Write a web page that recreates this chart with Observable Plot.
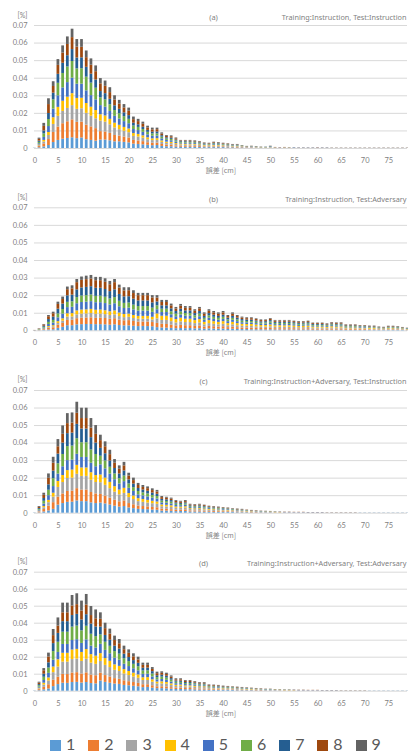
<!DOCTYPE html>
<html>
<head>
<meta charset="utf-8">
<script src="https://cdn.jsdelivr.net/npm/d3@7"></script>
<script src="https://cdn.jsdelivr.net/npm/@observablehq/plot@0.6"></script>
<style>
  html, body { margin: 0; padding: 0; background: #fff; }
  #chart { position: relative; width: 408px; height: 754px; overflow: hidden; }
  #chart svg { display: block; }
  #legend { position: absolute; left: 50px; top: 734px; height: 19.2px; display: flex; align-items: flex-start;
    font-family: Lato, "Liberation Sans", sans-serif; font-size: 16px; line-height: normal; color: #595959; }
  .item { display: flex; align-items: flex-start; width: 38.2px; }
  .sw { width: 11px; height: 11px; margin-top: 5.5px; margin-right: 5px; flex: none; }
</style>
</head>
<body>
<div id="chart"><div id="legend"></div></div>
<script>
// ---- data (values in units of 0.0001 %) ----
const seriesNames = ["1","2","3","4","5","6","7","8","9"];
const colors = ["#5B9BD5","#ED7D31","#A5A5A5","#FFC000","#4472C4","#70AD47","#255E91","#9E480E","#636363"];
const bins = d3.range(0, 80);
const xTicks = [0,5,10,15,20,25,30,35,40,45,50,55,60,65,70,75];
const yTicks = [0,0.01,0.02,0.03,0.04,0.05,0.06,0.07];
const xLabel = "誤差 [cm]";
const yLabel = "[%]";

// Panel (a)
const a1 = [1,4,9,17,34,46,53,57,61,56, 60,50,46,42,48,48,44,38,38,35, 32,25,23,21,18,16,17,12,10,10, 8,7,7,7,7,6,5,5,5,5, 5,4,4,3,3,2,2,2,1,1, 2,1,1,1,1,1,1,1,1,1, 1,1,1,1,1,1,1,1,1,1, 1,1,1,1,1,1,1,1,1,1];
const a2 = [0,7,17,34,57,76,88,95,102,93, 90,83,77,71,48,46,42,36,33,30, 28,21,20,18,15,14,14,11,9,9, 7,6,5,6,5,5,4,4,4,4, 4,3,3,3,2,2,2,1,1,1, 1,1,1,1,0,1,0,0,0,0, 1,0,0,0,0,0,0,0,0,0, 0,0,0,0,0,0,0,0,0,0];
const a3 = [1,5,11,23,46,61,70,76,81,74, 76,67,61,56,60,56,49,43,36,33, 30,23,22,20,17,15,15,12,10,9, 8,7,7,7,7,6,5,4,5,5, 4,4,3,4,3,2,2,2,1,1, 2,1,1,1,1,1,1,1,1,1, 1,1,1,1,1,1,1,1,1,1, 1,1,1,1,1,1,1,1,1,1];
const a4 = [0,4,9,17,38,51,58,64,68,62, 60,56,51,47,36,35,31,27,25,22, 21,16,15,13,11,10,10,8,7,7, 5,5,5,4,4,4,3,3,4,3, 3,3,2,2,2,1,1,1,1,1, 1,1,0,1,1,0,0,0,0,0, 0,0,0,0,0,0,0,0,0,0, 0,0,0,0,0,0,0,0,0,0];
const a5 = [0,7,17,34,49,66,76,83,88,81, 80,72,66,61,52,50,45,39,36,33, 30,23,22,20,17,15,15,12,10,9, 8,5,6,6,5,5,4,4,4,4, 4,3,3,3,2,1,2,1,1,1, 3,1,1,1,1,1,1,1,1,1, 1,1,1,0,0,0,0,0,0,0, 0,0,0,0,0,0,0,0,0,0];
const a6 = [0,8,20,40,53,71,82,89,95,87, 88,78,71,66,44,42,38,33,30,28, 25,20,18,16,14,13,12,10,8,8, 7,5,5,4,5,4,3,3,4,4, 3,3,2,2,2,1,1,1,1,1, 1,0,0,0,0,0,0,0,0,0, 0,0,0,0,0,0,0,0,0,0, 0,0,0,0,0,0,0,0,0,0];
const a7 = [0,7,17,34,38,51,58,64,68,62, 62,56,51,47,36,35,31,27,25,22, 21,16,15,13,11,10,11,8,7,7, 5,4,4,4,4,3,3,2,3,3, 2,2,2,2,1,1,1,1,1,1, 1,0,0,0,0,1,0,0,0,0, 0,0,0,0,0,0,0,0,0,0, 0,0,0,0,0,0,0,0,0,0];
const a8 = [0,10,26,51,38,51,58,64,68,62, 60,55,51,47,44,42,38,33,30,28, 25,20,18,17,14,13,13,9,8,8, 7,4,4,5,4,4,3,3,4,3, 3,3,2,2,1,1,1,1,1,0, 1,1,1,1,1,0,1,1,1,1, 1,1,1,1,1,1,1,1,1,1, 1,1,1,1,1,1,1,1,1,1];
const a9 = [0,7,17,33,27,33,41,43,48,43, 44,38,36,33,30,30,28,24,21,19, 18,15,13,12,10,10,9,7,5,5, 5,3,3,3,3,3,2,2,3,3, 2,2,2,2,1,1,1,1,0,1, 1,0,0,0,0,0,0,0,0,0, 0,0,0,0,0,0,0,0,0,0, 0,0,0,0,0,0,0,0,0,0];

// Panel (b)
const b1 = [0,1,2,5,6,14,20,29,29,34, 35,36,36,35,35,34,32,34,30,28, 28,26,24,25,24,23,18,16,15,14, 12,13,12,13,11,12,9,11,10,9, 10,8,9,8,7,7,6,6,6,5, 6,5,5,5,5,5,5,5,5,4, 4,4,4,4,4,4,3,3,3,3, 3,2,2,2,2,2,2,2,2,1];
const b2 = [0,1,4,9,11,18,22,30,31,35, 37,37,38,36,37,36,34,35,31,29, 30,27,26,25,26,24,24,21,21,18, 16,18,17,16,14,16,12,14,13,12, 13,10,12,10,9,9,9,8,7,8, 8,7,7,7,7,7,6,6,7,5, 5,5,5,6,5,6,4,4,4,4, 4,3,3,3,2,3,3,3,2,2];
const b3 = [0,1,2,5,6,10,13,19,19,22, 23,23,24,23,23,22,21,22,20,18, 19,17,16,16,16,15,26,22,23,20, 17,20,18,18,16,17,13,16,14,13, 14,11,13,11,10,10,10,9,8,8, 9,8,8,8,8,7,7,7,7,6, 6,6,5,6,6,6,4,4,4,4, 4,4,4,3,3,3,3,3,3,2];
const b4 = [0,1,2,5,6,10,13,19,19,22, 23,23,24,23,23,22,21,22,20,18, 18,17,16,16,16,15,28,24,24,21, 19,21,19,19,17,19,14,17,15,14, 15,12,14,12,11,10,11,10,9,9, 10,8,9,8,9,8,7,8,8,6, 6,6,6,7,6,6,5,5,5,4, 4,4,4,3,3,4,4,3,3,2];
const b5 = [0,1,5,12,15,22,27,35,36,41, 43,44,44,43,42,41,39,41,36,34, 34,32,30,30,30,28,24,21,21,18, 16,18,17,17,14,16,12,14,13,12, 13,11,12,11,9,9,9,8,7,8, 9,7,7,7,7,7,6,6,7,5, 5,5,5,6,6,6,4,4,4,4, 4,3,3,3,2,3,3,3,2,2];
const b6 = [0,2,5,12,15,22,26,30,31,35, 37,37,38,36,37,36,34,35,31,29, 29,27,26,26,26,24,22,19,19,17, 15,17,15,15,13,15,11,13,12,11, 12,10,11,10,9,8,8,8,7,7, 8,7,6,7,6,6,6,6,6,5, 5,5,4,5,5,5,4,4,4,3, 3,3,3,2,2,3,3,3,2,2];
const b7 = [1,2,6,16,19,27,31,37,38,44, 46,47,47,46,45,44,42,44,39,37, 36,34,32,32,32,30,22,19,19,17, 15,16,15,15,13,15,11,13,12,11, 12,10,11,10,9,8,8,7,7,7, 8,6,7,6,7,6,6,6,6,5, 5,5,4,5,5,5,4,4,4,3, 3,3,3,2,2,3,3,3,2,2];
const b8 = [1,2,7,16,19,27,26,35,36,41, 43,44,44,43,43,41,39,41,36,34, 34,32,30,30,30,28,22,19,19,17, 14,17,15,15,13,15,12,13,13,12, 13,9,12,9,9,8,8,8,7,6, 8,7,6,7,6,6,6,6,6,5, 5,5,4,5,5,5,4,4,4,3, 3,3,3,2,2,3,3,2,2,1];
const b9 = [0,0,3,7,9,13,14,15,17,18, 19,20,20,19,19,20,19,18,17,18, 17,16,13,13,13,13,14,12,12,10, 9,10,10,10,9,8,8,9,8,8, 8,6,8,6,5,5,5,4,4,4, 4,4,4,4,4,3,4,3,3,3, 3,3,3,3,3,3,2,2,2,2, 2,2,2,2,2,2,2,2,1,1];

// Panel (c)
const c1 = [1,2,7,13,22,46,55,62,63,70, 66,66,59,55,58,53,47,40,35,38, 30,26,22,21,20,18,17,12,12,11, 9,10,10,7,7,7,6,6,5,5, 5,4,4,3,3,3,2,2,2,2, 2,1,1,1,1,1,1,1,1,1, 1,1,1,1,1,1,1,1,1,1, 1,1,1,1,1,1,1,1,1,1];
const c2 = [0,5,14,27,38,46,55,62,63,70, 66,66,59,55,49,45,39,34,30,32, 25,22,19,17,16,15,14,11,10,9, 8,8,9,6,6,6,6,5,5,4, 4,4,3,3,3,2,2,2,1,1, 1,1,1,1,1,1,1,1,0,0, 0,0,0,0,0,0,0,0,0,0, 0,0,0,0,0,0,0,0,0,0];
const c3 = [1,3,10,20,32,55,65,74,74,82, 78,78,70,65,67,61,54,46,40,43, 34,30,25,24,22,21,20,14,14,13, 11,10,11,8,7,8,7,6,6,5, 5,5,4,4,3,3,3,2,2,2, 2,1,1,1,1,1,1,1,1,1, 1,1,1,1,1,1,1,1,1,1, 1,1,1,1,1,1,1,1,1,1];
const c4 = [0,2,7,13,22,34,40,45,46,51, 48,48,43,40,44,41,36,31,27,29, 23,20,17,16,15,14,13,10,9,9, 7,7,7,5,5,5,5,4,4,4, 3,3,3,2,2,2,2,1,1,1, 1,1,1,0,0,0,0,0,0,0, 0,0,0,0,0,0,0,0,0,0, 0,0,0,0,0,0,0,0,0,0];
const c5 = [0,5,14,27,38,42,50,57,57,63, 60,60,54,50,58,53,47,40,35,38, 30,26,22,21,20,18,17,12,12,11, 9,8,9,6,6,6,5,5,4,4, 4,4,3,3,3,2,2,2,2,1, 1,1,1,1,1,1,1,1,1,1, 1,1,0,0,0,0,0,0,0,0, 0,0,0,0,0,0,0,0,0,0];
const c6 = [0,5,16,31,45,59,70,80,80,89, 84,84,76,70,49,45,39,33,30,32, 25,22,19,17,17,15,14,10,10,10, 8,7,7,5,5,5,5,4,4,4, 3,3,3,2,2,2,1,1,1,1, 1,1,0,0,0,0,0,0,0,0, 0,0,0,0,0,0,0,0,0,0, 0,0,0,0,0,0,0,0,0,0];
const c7 = [0,5,16,31,43,55,65,74,74,82, 78,78,70,65,45,41,36,31,27,29, 23,20,17,16,15,14,13,10,9,9, 7,6,6,5,4,5,4,3,3,3, 3,2,2,2,2,1,1,1,1,1, 0,0,0,0,0,0,0,0,0,0, 0,0,0,0,0,0,0,0,0,0, 0,0,0,0,0,0,0,0,0,0];
const c8 = [0,6,18,37,45,42,50,57,57,63, 60,60,54,50,44,40,36,30,27,29, 22,20,17,15,15,14,13,10,9,8, 8,7,7,5,5,5,5,4,4,3, 3,3,2,3,2,2,2,2,1,1, 1,1,1,1,1,1,1,1,1,1, 1,1,1,1,1,1,1,1,1,0, 0,0,0,0,0,0,0,0,0,0];
const c9 = [0,5,12,25,34,41,48,57,58,63, 59,59,55,50,31,28,25,21,19,20, 16,14,12,11,10,10,9,6,6,6, 5,5,6,4,4,4,3,3,3,3, 2,2,2,2,2,1,1,1,1,1, 1,1,1,1,1,0,0,0,0,0, 0,0,0,0,0,0,0,0,0,0, 0,0,0,0,0,0,0,0,0,0];

// Panel (d)
const dv1 = [1,3,8,13,27,39,47,46,51,52, 48,51,45,43,60,52,47,42,40,34, 32,29,26,21,22,18,15,15,14,12, 10,10,9,9,8,7,7,5,5,5, 4,4,4,3,3,3,3,2,2,2, 2,2,1,1,1,1,1,1,1,1, 1,1,1,1,1,1,1,1,1,1, 1,1,1,1,1,1,1,1,1,1];
const dv2 = [0,6,15,25,38,43,52,52,56,57, 53,57,50,48,46,40,37,32,30,27, 24,22,20,17,16,14,11,11,11,9, 7,8,7,7,6,6,6,4,4,4, 3,3,3,3,3,2,2,2,2,1, 1,1,1,1,1,1,1,1,1,1, 1,0,0,0,0,0,0,0,0,0, 0,0,0,0,0,0,0,0,0,0];
const dv3 = [1,5,13,22,44,60,72,73,79,80, 74,80,70,67,69,60,55,49,46,40, 36,33,30,25,25,21,17,17,16,13, 11,11,9,9,9,8,8,6,5,5, 5,4,4,4,3,3,3,3,2,2, 2,2,2,1,1,1,1,1,1,1, 1,1,1,1,1,1,1,1,1,1, 1,1,1,1,1,1,1,1,1,1];
const dv4 = [0,4,11,18,33,43,52,52,56,57, 53,57,50,48,46,40,37,32,30,26, 24,22,20,16,17,14,11,12,10,9, 7,7,6,6,6,5,5,4,4,3, 3,3,3,2,2,2,2,2,1,1, 1,1,1,1,1,1,0,0,0,0, 0,0,0,0,0,0,0,0,0,0, 0,0,0,0,0,0,0,0,0,0];
const dv5 = [0,6,16,27,40,43,52,52,56,57, 53,57,50,48,55,48,44,39,36,32, 29,26,24,20,20,17,13,14,13,11, 9,9,8,8,7,6,6,4,4,4, 4,3,3,3,3,3,2,2,2,2, 2,1,1,1,1,1,1,1,1,1, 1,1,1,1,1,0,0,0,0,0, 0,0,0,0,0,0,0,0,0,0];
const dv6 = [0,8,19,31,51,60,72,72,79,80, 74,80,70,67,55,48,44,39,36,32, 29,26,24,20,20,17,13,14,13,11, 9,7,6,6,6,5,5,4,4,3, 3,3,3,2,2,2,2,1,1,1, 1,1,1,1,1,0,0,0,0,0, 0,0,0,0,0,0,0,0,0,0, 0,0,0,0,0,0,0,0,0,0];
const dv7 = [0,7,18,31,47,52,62,62,68,69, 64,68,60,57,46,40,36,32,30,27, 24,22,20,16,16,14,11,11,11,9, 7,7,6,6,5,5,5,3,3,3, 3,3,2,2,2,2,1,1,1,1, 1,0,0,0,0,0,0,0,0,0, 0,0,0,0,0,0,0,0,0,0, 0,0,0,0,0,0,0,0,0,0];
const dv8 = [0,8,20,34,47,43,52,52,56,57, 53,57,50,48,46,40,36,33,31,26, 25,22,20,17,16,13,12,11,10,9, 7,8,7,7,6,5,5,4,4,4, 3,3,2,3,2,2,2,2,2,1, 1,1,1,1,1,1,1,1,1,1, 1,1,1,1,1,1,1,1,1,1, 1,0,0,0,0,0,0,0,0,0];
const dv9 = [0,6,13,23,36,48,57,57,62,64, 58,62,53,52,38,32,29,26,25,21, 20,18,16,13,13,11,9,9,8,7, 6,6,5,5,4,4,4,3,3,3, 2,2,2,2,2,1,1,1,1,1, 1,1,1,1,1,1,1,1,0,0, 0,0,0,0,0,0,0,0,0,0, 0,0,0,0,0,0,0,0,0,0];

const panels = [
  {tag: "(a)", title: "Training:Instruction, Test:Instruction", series: [a1,a2,a3,a4,a5,a6,a7,a8,a9], h: 182, top: 25, zero: 148, tagX: 213},
  {tag: "(b)", title: "Training:Instruction, Test:Adversary", series: [b1,b2,b3,b4,b5,b6,b7,b8,b9], h: 182, top: 25.3, zero: 148.3, tagX: 213},
  {tag: "(c)", title: "Training:Instruction+Adversary, Test:Instruction", series: [c1,c2,c3,c4,c5,c6,c7,c8,c9], h: 182, top: 26, zero: 148.7, tagX: 203},
  {tag: "(d)", title: "Training:Instruction+Adversary, Test:Adversary", series: [dv1,dv2,dv3,dv4,dv5,dv6,dv7,dv8,dv9], h: 178, top: 25.7, zero: 144.7, tagX: 203}
];

const FONT = 'Lato, "Noto Sans CJK JP", sans-serif';
const TFONT = '"Noto Sans", "Open Sans", sans-serif';
const GRAY = "#7f7f7f";

function makePanel(p) {
  const rows = [];
  p.series.forEach((arr, k) => arr.forEach((v, i) => rows.push({bin: bins[i], series: seriesNames[k], value: v / 10000})));
  const ml = 34, W = 408;
  return Plot.plot({
    width: W, height: p.h,
    marginLeft: ml, marginRight: 1, marginTop: p.top, marginBottom: p.h - p.zero,
    style: {fontFamily: FONT, fontSize: "7.5px", color: GRAY, background: "#fff", overflow: "visible"},
    x: {type: "band", domain: bins, paddingInner: 0.42, paddingOuter: 0.21, range: [31.94, 409.54], label: null},
    y: {domain: [0, 0.07], label: null},
    color: {domain: seriesNames, range: colors},
    marks: [
      Plot.ruleY(yTicks, {stroke: "#d9d9d9", strokeWidth: 1}),
      Plot.barY(rows, {x: "bin", y: "value", fill: "series"}),
      Plot.axisY(yTicks, {tickSize: 0, tickPadding: 7, label: null, fill: GRAY,
        tickFormat: d => d === 0 ? "0" : d.toFixed(2)}),
      Plot.axisX(xTicks, {tickSize: 0, tickPadding: 9, label: null, fill: GRAY}),
      Plot.text([yLabel], {frameAnchor: "top-left", dx: -7, dy: 13 - p.top, textAnchor: "end", fill: GRAY, fontSize: 7}),
      Plot.text([p.tag], {frameAnchor: "top-left", dx: p.tagX - ml, dy: 14 - p.top, textAnchor: "middle", fill: GRAY, fontFamily: TFONT, fontSize: 7.5}),
      Plot.text([p.title], {frameAnchor: "top-right", dx: -1, dy: 14 - p.top, textAnchor: "end", fill: GRAY, fontFamily: TFONT, fontSize: 7.3}),
      Plot.text([xLabel], {frameAnchor: "bottom", dy: 24.5, fill: GRAY, fontFamily: '"Noto Sans CJK JP", sans-serif', fontSize: 7})
    ]
  });
}

const chart = document.getElementById("chart");
const legend = document.getElementById("legend");
panels.forEach(p => chart.insertBefore(makePanel(p), legend));

seriesNames.forEach((s, i) => {
  const it = document.createElement("div");
  it.className = "item";
  const sw = document.createElement("span");
  sw.className = "sw";
  sw.style.background = colors[i];
  const lb = document.createElement("span");
  lb.textContent = s;
  it.appendChild(sw); it.appendChild(lb);
  legend.appendChild(it);
});
</script>
</body>
</html>
